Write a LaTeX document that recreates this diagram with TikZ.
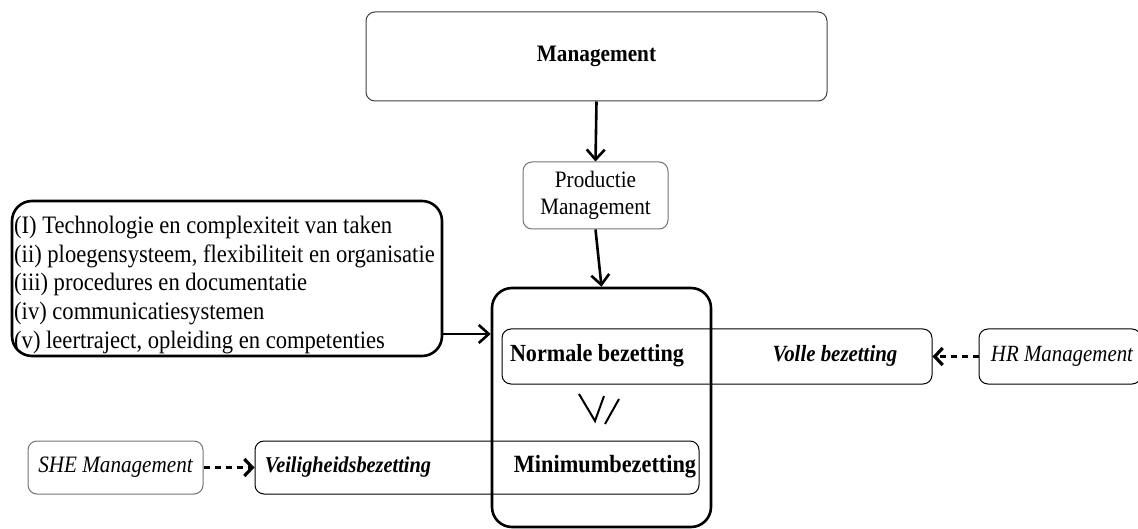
\documentclass[tikz,border=0pt]{standalone}
\usepackage{fontspec}
\setmainfont{Liberation Serif}[FakeStretch=0.9]
\usetikzlibrary{arrows.meta}
\tikzset{
  box/.style={draw, rounded corners=9pt, inner sep=0pt, line width=1pt},
  graybox/.style={box, draw=black!55},
  thickbox/.style={draw, rounded corners=20pt, inner sep=0pt, line width=2.6pt},
  arr/.style={line width=2.6pt, -{Straight Barb[length=10pt,width=18pt,line width=2.6pt]}},
  darr/.style={line width=3.2pt, dash pattern=on 6pt off 5pt, -{Straight Barb[length=8pt,width=17pt,line width=3.2pt]}},
  txt/.style={font=\fontsize{23.2}{28.7}\selectfont, inner sep=0pt},
}
\begin{document}
\begin{tikzpicture}[x=1pt,y=-1pt]
\useasboundingbox (0,0) rectangle (1138,529);
% boxes
\node[box, draw=black!75, minimum width=461pt, minimum height=89pt] (mgmt) at (596.5,56.5) {};
\node[txt, font=\fontsize{23.6}{28.7}\selectfont\bfseries] (mgmtt) at (mgmt) {Management};
\node[graybox, minimum width=145pt, minimum height=67pt, align=center, font=\fontsize{23.5}{27}\selectfont] (prod) at (595.5,195.5) {Productie\\Management};
\node[thickbox, minimum width=219pt, minimum height=239pt] (big) at (601.5,407.5) {};
\node[thickbox, minimum width=430pt, minimum height=155pt] (left) at (227,278.5) {};
\node[txt, font=\fontsize{25.1}{28.7}\selectfont, anchor=west, align=left] (leftt) at (14,285) {(I) Technologie en complexiteit van taken\\(ii) ploegensysteem, flexibiliteit en organisatie\\(iii) procedures en documentatie\\(iv) communicatiesystemen\\(v) leertraject, opleiding en competenties};
\node[box, minimum width=430pt, minimum height=55pt] (norm) at (717,356.5) {};
\node[box, minimum width=162pt, minimum height=55pt] (hr) at (1060,356.5) {};
\node[box, minimum width=444pt, minimum height=53pt] (min) at (477,467.5) {};
\node[graybox, minimum width=175pt, minimum height=53pt] (she) at (115.5,467.5) {};
% texts
\node[txt, font=\fontsize{24.6}{28.7}\selectfont\bfseries] (normt) at (597,356) {Normale bezetting};
\node[txt, font=\fontsize{23.2}{28.7}\selectfont\bfseries\itshape] (vollet) at (835,356) {Volle bezetting};
\node[txt, font=\fontsize{23.2}{28.7}\selectfont\itshape] (hrt) at (1062,356) {HR Management};
\node[txt, font=\fontsize{22.6}{28.7}\selectfont\bfseries\itshape] (veilt) at (348,467) {Veiligheidsbezetting};
\node[txt, font=\fontsize{24.8}{28.7}\selectfont\bfseries] (mint) at (605,467) {Minimumbezetting};
\node[txt, font=\fontsize{23.5}{28.7}\selectfont\itshape] (shet) at (115.5,467) {SHE Management};
% symbol
\draw[line width=2pt] (579,394) -- (595,421) -- (604,396);
\draw[line width=2pt] (605,424) -- (619,399);
% connectors
\coordinate (la) at (442,334);
\draw[arr] (mgmt.south) -- (prod.north);
\draw[arr] (prod.south) -- (big.north);
\draw[arr] (left.east |- la) -- (big.west |- la);
\draw[darr] (hr.west) -- (norm.east);
\draw[darr] (she.east) -- (min.west);
\end{tikzpicture}
\end{document}
